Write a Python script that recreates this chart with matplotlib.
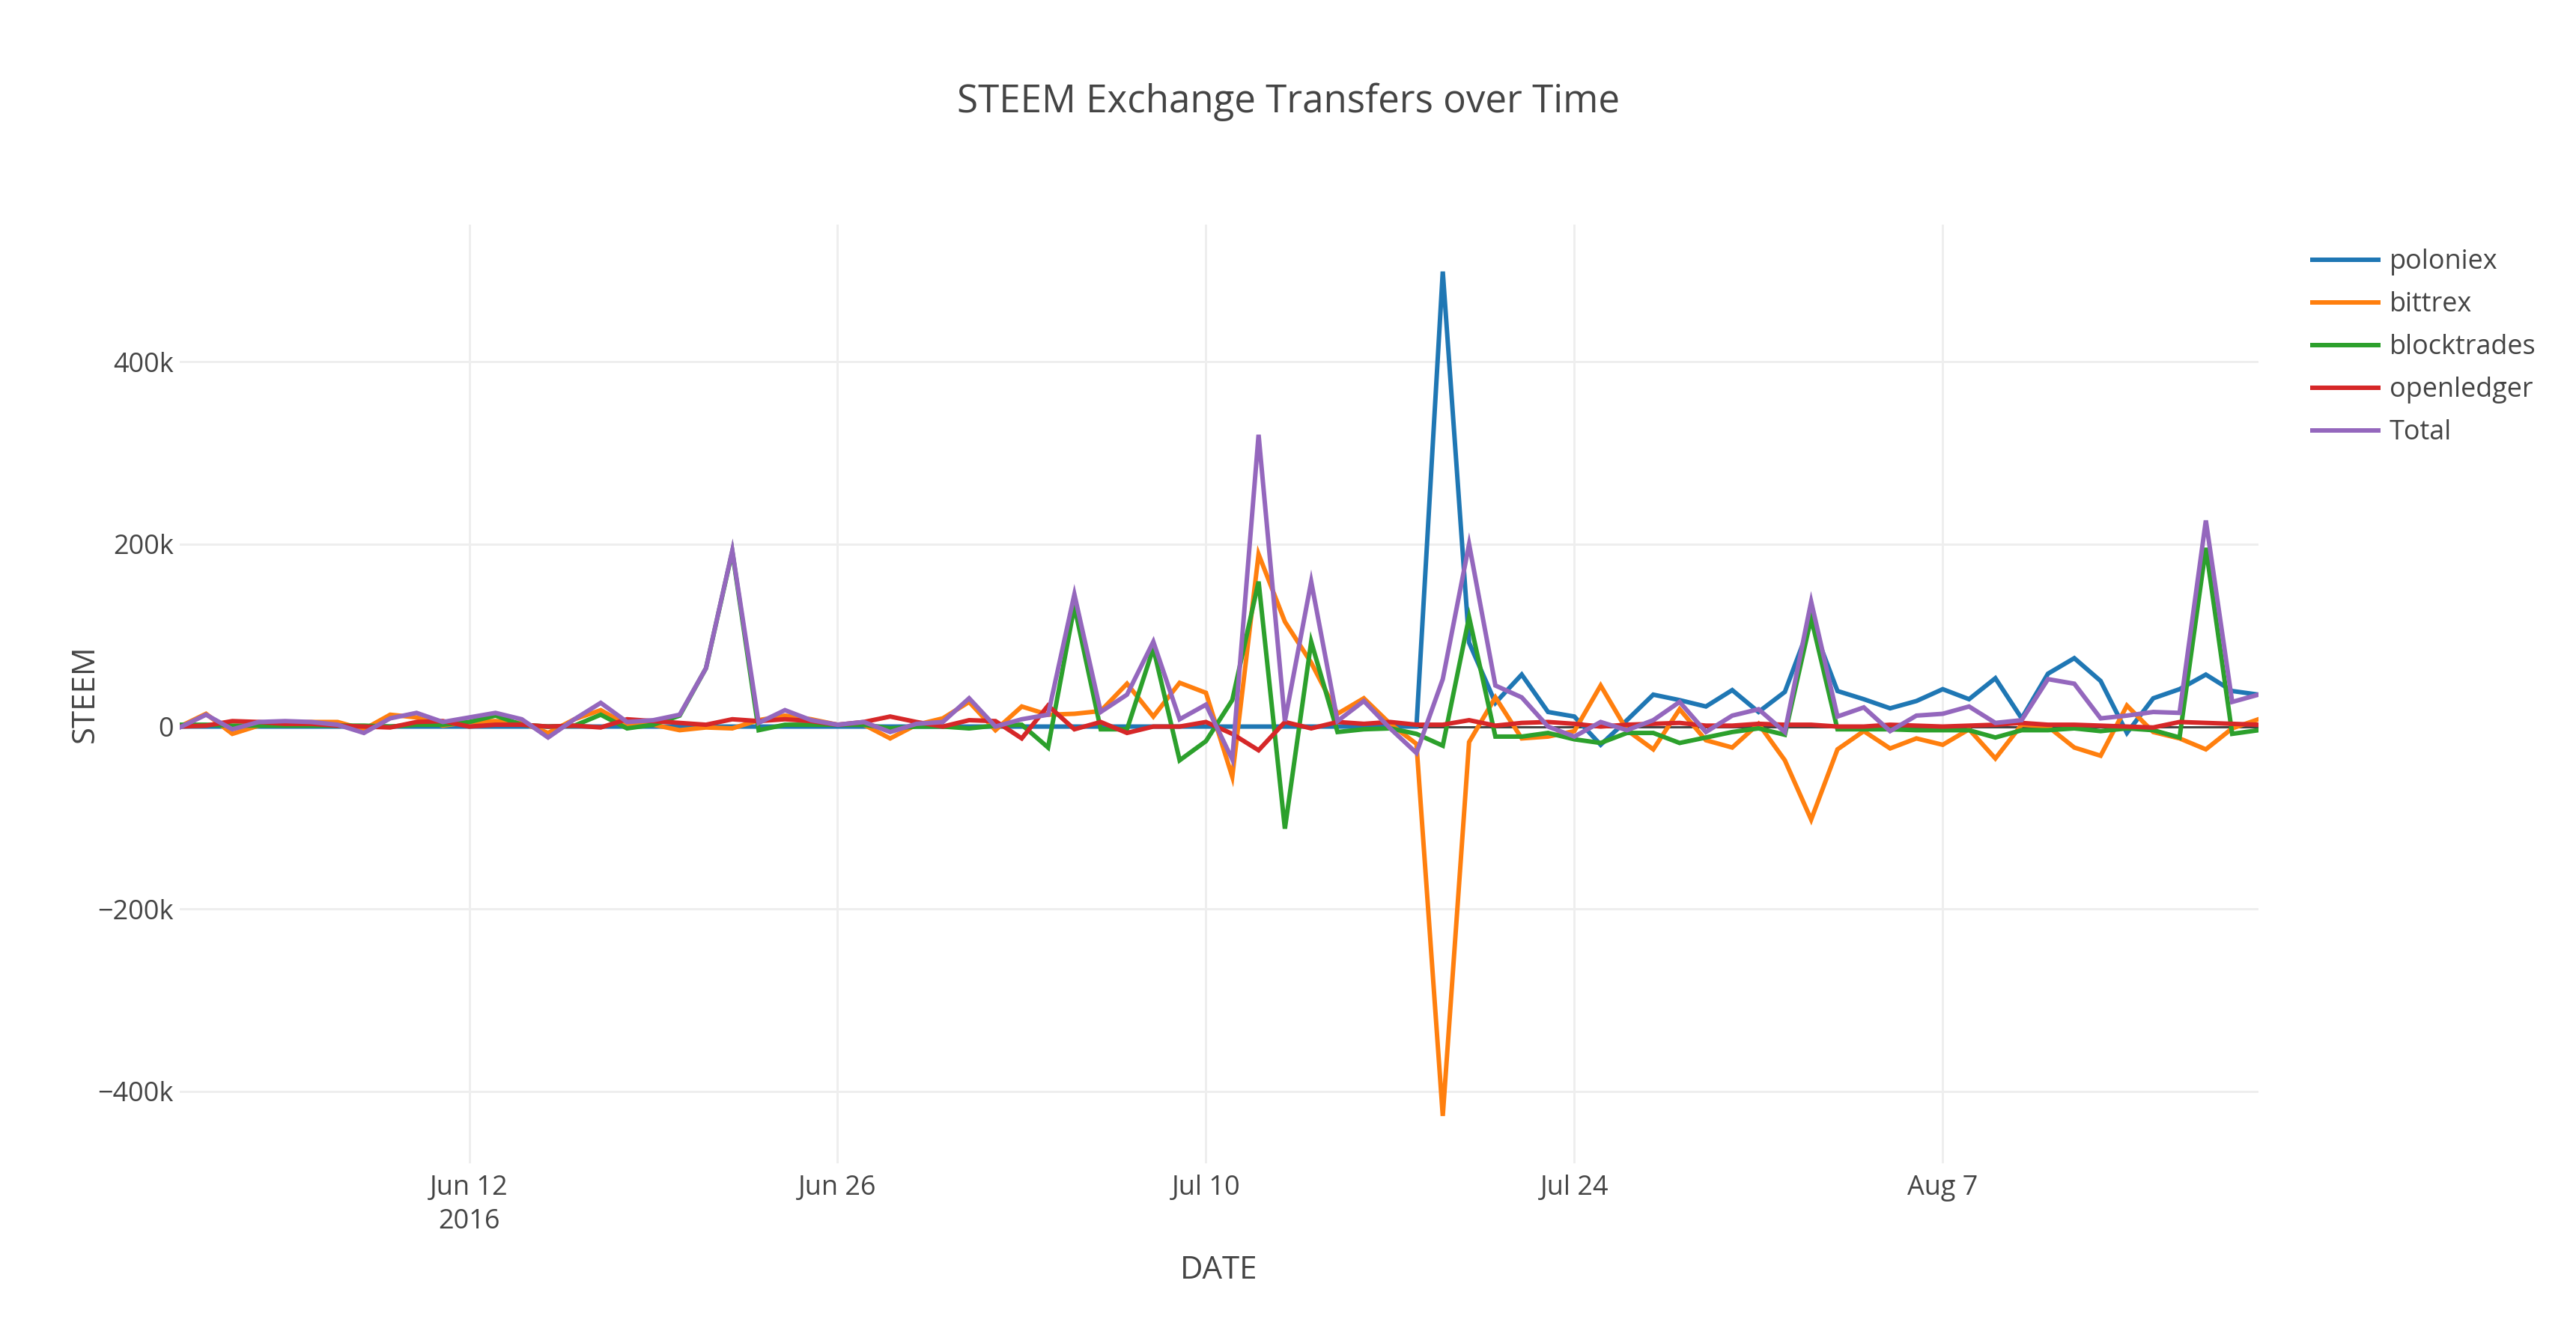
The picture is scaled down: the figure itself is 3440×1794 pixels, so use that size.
import matplotlib
matplotlib.use("Agg")
import matplotlib.pyplot as plt
from matplotlib.lines import Line2D
import pandas as pd

plt.rcParams['font.family'] = ['Open Sans', 'DejaVu Sans']

dates = pd.date_range('2016-06-01', '2016-08-19', freq='D')

poloniex = [0]*48 + [499000, 92000, 26000, 57000, 16000, 11000, -20000, 7000, 35000, 29000,
                     22000, 40000, 16000, 38000, 115000, 39000, 30000, 20000, 28000, 41000,
                     30000, 53000, 9000, 58000, 75000, 50000, -7000, 31000, 41000, 57000,
                     39000, 35000]
bittrex = [0, 14000, -8000, 1000, 4000, 5000, 5000, -3000, 13000, 10000,
           1000, 5000, 6000, 4000, -7000, 8000, 18000, 2000, 2000, -4000,
           -1000, -2000, 7000, 12000, 8000, 2000, 2000, -13000, 2000, 9000,
           27000, -4000, 22000, 13000, 14000, 17000, 47000, 11000, 48000, 37000,
           -55000, 189000, 115000, 70000, 14000, 31000, 3000, -19000, -427000, -17000,
           32000, -13000, -11000, -5000, 45000, -4000, -25000, 19000, -15000, -23000,
           3000, -37000, -102000, -25000, -5000, -24000, -13000, -20000, -3000, -35000,
           2000, 0, -23000, -32000, 23000, -6000, -13000, -25000, -2000, 8000]
blocktrades = [2000, 2000, 1000, 1000, 1000, 1000, 1000, 1000, 0, 2000,
               2000, 5000, 12000, 2000, 0, 1000, 13000, -2000, 2000, 12000,
               64000, 192000, -4000, 2000, 2000, 2000, 2000, -2000, 0, 0,
               -2000, 1000, 2000, -23000, 132000, -3000, -3000, 86000, -37000, -16000,
               29000, 159000, -112000, 93000, -6000, -3000, -2000, -8000, -21000, 120000,
               -11000, -11000, -7000, -14000, -18000, -7000, -7000, -18000, -12000, -6000,
               -2000, -9000, 119000, -3000, -3000, -3000, -4000, -4000, -4000, -12000,
               -4000, -4000, -2000, -5000, -2000, -4000, -12000, 196000, -8000, -4000]
openledger = [0, 1000, 6000, 5000, 3000, 3000, 1000, 0, -1000, 5000,
              6000, 0, 2000, 2000, 0, 1000, -1000, 8000, 6000, 4000,
              2000, 8000, 6000, 8000, 6000, 2000, 5000, 11000, 5000, 0,
              7000, 6000, -13000, 23000, -3000, 5000, -7000, 0, 0, 5000,
              -8000, -26000, 5000, -2000, 5000, 3000, 5000, 2000, 2000, 7000,
              1000, 4000, 5000, 3000, 0, 2000, 3000, 4000, 1000, 1000,
              3000, 2000, 2000, 0, 0, 2000, 1000, 0, 1000, 2000,
              4000, 2000, 2000, 1000, 0, -1000, 5000, 4000, 3000, 2000]
total = [-1000, 13000, -3000, 5000, 6000, 5000, 2000, -7000, 9000, 15000,
         5000, 10000, 15000, 8000, -12000, 8000, 26000, 5000, 7000, 13000,
         64000, 193000, 4000, 18000, 7000, 2000, 5000, -6000, 3000, 5000,
         31000, 0, 8000, 13000, 145000, 16000, 35000, 93000, 8000, 24000,
         -36000, 320000, 6000, 159000, 6000, 28000, -2000, -29000, 52000, 200000,
         45000, 32000, 0, -11000, 5000, -4000, 7000, 27000, -6000, 12000,
         19000, -6000, 137000, 11000, 21000, -5000, 12000, 14000, 22000, 4000,
         7000, 52000, 47000, 9000, 12000, 16000, 15000, 226000, 27000, 35000]

series_names = ['poloniex', 'bittrex', 'blocktrades', 'openledger', 'Total']
series_values = [poloniex, bittrex, blocktrades, openledger, total]
colors = ['#1f77b4', '#ff7f0e', '#2ca02c', '#d62728', '#9467bd']

xtick_dates = ['2016-06-12', '2016-06-26', '2016-07-10', '2016-07-24', '2016-08-07']
xtick_labels = ['Jun 12\n2016', 'Jun 26', 'Jul 10', 'Jul 24', 'Aug 7']
ytick_values = [-400000, -200000, 0, 200000, 400000]
ytick_labels = ['\u2212400k', '\u2212200k', '0', '200k', '400k']

W, H, DPI = 3441, 1794, 100
PX = 72.0 / DPI  # points per pixel
fig = plt.figure(figsize=(W / DPI, H / DPI), dpi=DPI)
L, R, T, B = 240, 3016, 300, 1554
ax = fig.add_axes([L / W, 1 - B / H, (R - L) / W, (B - T) / H])

TXT = '#444444'
for name, vals, c in zip(series_names, series_values, colors):
    ax.plot(dates, vals, color=c, lw=6 * PX, label=name, zorder=3,
            solid_joinstyle='miter')

ax.axhline(0, color=TXT, lw=3 * PX, zorder=2)
ax.set_xlim(dates[0], dates[-1])
ax.set_ylim(-479000, 550500)
ax.grid(True, color='#eeeeee', lw=3 * PX, zorder=1)
ax.set_axisbelow(True)
for s in ax.spines.values():
    s.set_visible(False)

ax.set_xticks(pd.to_datetime(xtick_dates))
ax.set_xticklabels(xtick_labels, fontsize=36 * PX, color=TXT, linespacing=1.35)
ax.set_yticks(ytick_values)
ax.set_yticklabels(ytick_labels, fontsize=36 * PX, color=TXT)
ax.tick_params(axis='both', length=0)
ax.tick_params(axis='y', pad=8 * PX)
ax.tick_params(axis='x', pad=15 * PX)

fig.text(0.5, 1 - 136 / H, 'STEEM Exchange Transfers over Time', ha='center', va='center',
         fontsize=51 * PX, color=TXT)
fig.text((L + R) / 2 / W, 1 - 1697 / H, 'DATE', ha='center', va='center',
         fontsize=42 * PX, color=TXT)
fig.text(114 / W, 1 - (T + B) / 2 / H, 'STEEM', ha='center', va='center', rotation=90,
         fontsize=42 * PX, color=TXT)

# legend
row_y = [347, 404, 461, 518, 575]
for name, c, y in zip(series_names, colors, row_y):
    fig.add_artist(Line2D([3088 / W, 3176 / W], [1 - y / H, 1 - y / H], color=c,
                          lw=6 * PX, transform=fig.transFigure))
    fig.text(3191 / W, 1 - (y + 3) / H, name, ha='left', va='center', fontsize=36 * PX, color=TXT)

fig.savefig('out.png', dpi=DPI, facecolor='white')
